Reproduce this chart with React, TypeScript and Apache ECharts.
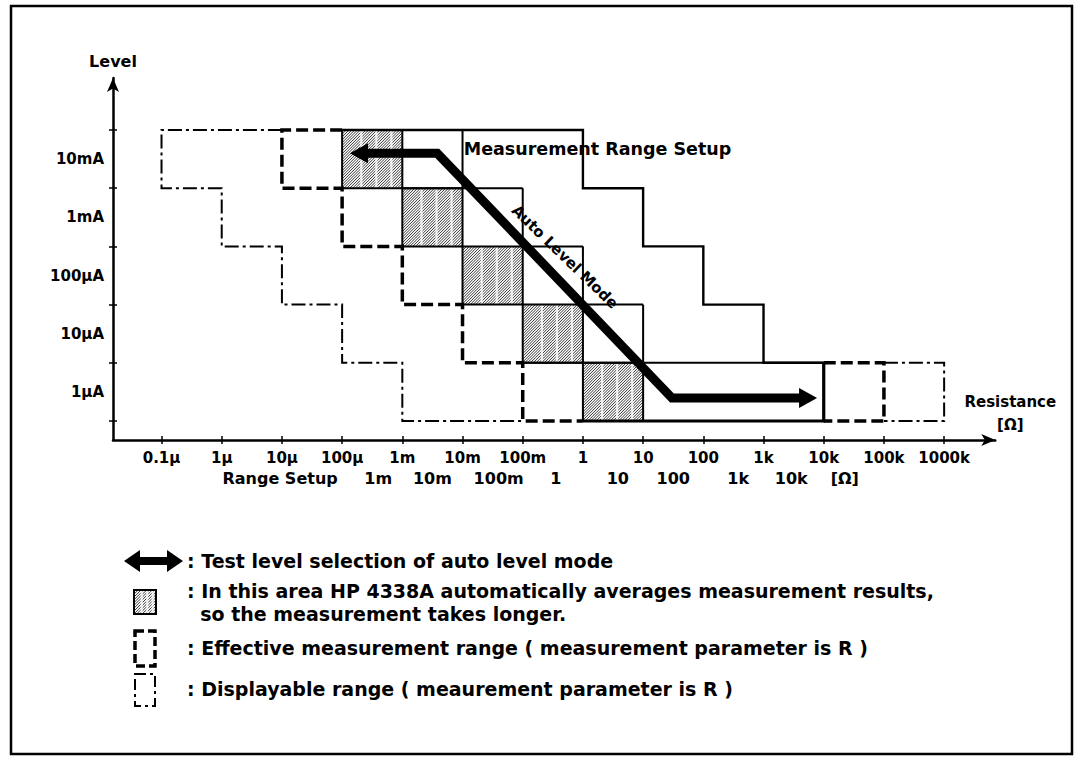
import React, { useEffect, useRef } from 'react';
import * as echarts from 'echarts';

const FONT = "'DejaVu Sans', 'Liberation Sans', sans-serif";

// Resistance axis: one step per decade, 0 = 0.1μΩ
const decadeTicks = [0, 1, 2, 3, 4, 5, 6, 7, 8, 9, 10, 11, 12, 13];
const decadeLabels = ['0.1μ', '1μ', '10μ', '100μ', '1m', '10m', '100m', '1', '10', '100', '1k', '10k', '100k', '1000k'];

// Range setup row under the resistance axis
const rangeSetupLabels = ['Range Setup', '1m', '10m', '100m', '1', '10', '100', '1k', '10k', '[Ω]'];
const rangeSetupAt = [1.97, 3.6, 4.5, 5.6, 6.55, 7.58, 8.5, 9.58, 10.46, 11.35];

// Test level axis: one band per level, band boundaries on integers
const levelBounds = [0, 1, 2, 3, 4, 5];
const levelLabels = ['1μA', '10μA', '100μA', '1mA', '10mA'];
const levelCenters = [0.5, 1.5, 2.5, 3.5, 4.5];

// Displayable range (parameter R): dash-dot outline
const displayableStairs = [[2, 5], [0, 5], [0, 4], [1, 4], [1, 3], [2, 3], [2, 2], [3, 2], [3, 1], [4, 1], [4, 0], [6, 0]];
const displayableTail = [[12, 1], [13, 1], [13, 0], [12, 0]];

// Effective measurement range (parameter R): dashed outline
const effectiveStairs = [[3, 5], [2, 5], [2, 4], [3, 4], [3, 3], [4, 3], [4, 2], [5, 2], [5, 1], [6, 1], [6, 0], [7, 0]];
const effectiveTail = [[11, 1], [12, 1], [12, 0], [11, 0]];

// Measurement range setup: solid outline and cell dividers
const setupOutline = [[3, 5], [7, 5], [7, 4], [8, 4], [8, 3], [9, 3], [9, 2], [10, 2], [10, 1], [11, 1]];
const setupBase = [[11, 1], [11, 0], [7, 0]];
const setupDividers = [
  [[4, 4], [6, 4]],
  [[5, 5], [5, 4]],
  [[6, 4], [6, 3]],
  [[6, 3], [7, 3]],
  [[7, 3], [7, 2]],
  [[7, 2], [8, 2]],
  [[8, 2], [8, 1]],
  [[6, 1], [11, 1]],
];

// Cells where readings are averaged: [left decade, level band]
const averagedCells = [[3, 4], [4, 3], [5, 2], [6, 1], [7, 0]];

// Auto level mode path (arrowheads at both ends)
const autoLevelPath = [[3.28, 4.6], [4.58, 4.6], [8.48, 0.395], [10.74, 0.395]];

const annotationTexts = ['Measurement Range Setup', 'Auto Level Mode'];
const annotationAnchors = [[5.02, 4.67], [6.7, 2.82]];

const legendTexts = [
  ': Test level selection of auto level mode',
  ': In this area HP 4338A automatically averages measurement results,\n  so the measurement takes longer.',
  ': Effective measurement range ( measurement parameter is R )',
  ': Displayable range ( meaurement parameter is R )',
];

const X_MIN = -0.806;
const X_MAX = 13.85;
const Y_MIN = -0.326;
const Y_MAX = 5.893;

const DASHED: number[] = [12, 5];
const DASH_DOT: number[] = [14, 4, 3, 4];

// Diagonal hatch with light vertical streaks, clipped to a box
function hatchBox(x0: number, y0: number, w: number, h: number): any[] {
  const els: any[] = [{ type: 'rect', shape: { x: x0, y: y0, width: w, height: h }, style: { fill: '#fff' } }];
  const step = 2.8;
  for (let c = x0 + y0 + 1.4; c < x0 + y0 + w + h; c += step) {
    const xa = Math.max(x0, c - (y0 + h));
    const xb = Math.min(x0 + w, c - y0);
    if (xb - xa < 0.5) continue;
    els.push({
      type: 'line',
      shape: { x1: xa, y1: c - xa, x2: xb, y2: c - xb },
      style: { stroke: '#333', lineWidth: 1 },
    });
  }
  [0.3, 0.55, 0.8].forEach((f) => {
    els.push({ type: 'rect', shape: { x: x0 + f * w, y: y0, width: 2.2, height: h }, style: { fill: 'rgba(255,255,255,0.8)' } });
  });
  els.push({
    type: 'rect',
    shape: { x: x0, y: y0, width: w, height: h },
    style: { fill: 'none', stroke: '#000', lineWidth: 2 },
  });
  return els;
}

function outline(data: number[][], width: number, type: any, z = 3) {
  return {
    type: 'line',
    data,
    symbol: 'none',
    silent: true,
    clip: false,
    z,
    lineStyle: { color: '#000', width, type, cap: 'butt', join: 'miter' },
  };
}

const textBase = { color: '#000', fontFamily: FONT, fontWeight: 'bold' as const };

function buildOption(): any {
  const lastArrow = autoLevelPath.length - 1;
  const arrowData = autoLevelPath.map((p, i) => {
    if (i === 0) return { value: p, symbol: 'triangle', symbolRotate: 90, symbolSize: [20, 18] };
    if (i === lastArrow) return { value: p, symbol: 'triangle', symbolRotate: -90, symbolSize: [20, 18] };
    return { value: p, symbol: 'none' };
  });

  // Legend icons (double arrow, hatched box, dashed box, dash-dot box) and texts
  const ax0 = 124, ax1 = 183, ay = 561, hh = 11, hl = 16, st = 4;
  const legendArrow = {
    type: 'polygon',
    shape: {
      points: [
        [ax0, ay], [ax0 + hl, ay - hh], [ax0 + hl, ay - st], [ax1 - hl, ay - st], [ax1 - hl, ay - hh],
        [ax1, ay], [ax1 - hl, ay + hh], [ax1 - hl, ay + st], [ax0 + hl, ay + st], [ax0 + hl, ay + hh],
      ],
    },
    style: { fill: '#000' },
  };
  const legendTextStyle = (text: string) => ({
    text,
    fill: '#000',
    fontFamily: FONT,
    fontWeight: 'bold',
    fontSize: 19,
    lineHeight: 23,
    verticalAlign: 'middle',
    align: 'left',
  });
  const legendRows = [561, 602, 648, 689];

  return {
    animation: false,
    backgroundColor: '#fff',
    grid: { left: 113, top: 78, width: 882.3, height: 362, containLabel: false, outerBoundsMode: 'none' },
    xAxis: [
      {
        type: 'value',
        min: X_MIN,
        max: X_MAX,
        position: 'bottom',
        splitLine: { show: false },
        axisLine: {
          show: true,
          onZero: false,
          symbol: ['none', 'arrow'],
          symbolSize: [9, 14],
          lineStyle: { color: '#000', width: 2.5 },
        },
        axisTick: { show: true, customValues: decadeTicks, length: 4, lineStyle: { color: '#000', width: 1.5 } },
        axisLabel: {
          show: true,
          customValues: decadeTicks,
          formatter: (v: number) => decadeLabels[Math.round(v)],
          margin: 10,
          fontSize: 15,
          ...textBase,
        },
        name: 'Resistance\n[Ω]',
        nameLocation: 'end',
        nameGap: 15,
        nameTextStyle: {
          ...textBase,
          fontSize: 15,
          align: 'center',
          verticalAlign: 'bottom',
          lineHeight: 23,
          padding: [0, 0, 4, 0],
        },
      },
      {
        type: 'value',
        min: X_MIN,
        max: X_MAX,
        position: 'bottom',
        splitLine: { show: false },
        axisLine: { show: false, onZero: false },
        axisTick: { show: true, inside: true, customValues: decadeTicks, length: 4, lineStyle: { color: '#000', width: 1.5 } },
        axisLabel: {
          show: true,
          customValues: rangeSetupAt,
          formatter: (v: number) => {
            const i = rangeSetupAt.findIndex((a) => Math.abs(a - v) < 1e-6);
            return i >= 0 ? rangeSetupLabels[i] : '';
          },
          margin: 30,
          fontSize: 16,
          ...textBase,
        },
      },
    ],
    yAxis: [
      {
        type: 'value',
        min: Y_MIN,
        max: Y_MAX,
        position: 'left',
        splitLine: { show: false },
        axisLine: {
          show: true,
          onZero: false,
          symbol: ['none', 'arrow'],
          symbolSize: [9, 14],
          lineStyle: { color: '#000', width: 2.5 },
        },
        axisTick: { show: true, customValues: levelBounds, length: 4, lineStyle: { color: '#000', width: 1.5 } },
        axisLabel: {
          show: true,
          customValues: levelCenters,
          formatter: (v: number) => levelLabels[Math.floor(v)],
          margin: 9,
          fontSize: 15,
          ...textBase,
        },
        name: 'Level',
        nameLocation: 'end',
        nameGap: 9,
        nameTextStyle: { ...textBase, fontSize: 16 },
      },
      {
        type: 'value',
        min: Y_MIN,
        max: Y_MAX,
        position: 'left',
        splitLine: { show: false },
        axisLine: { show: false, onZero: false },
        axisTick: { show: true, inside: true, customValues: levelBounds, length: 4, lineStyle: { color: '#000', width: 1.5 } },
        axisLabel: { show: false },
      },
    ],
    series: [
      {
        type: 'custom',
        silent: true,
        z: 2,
        data: averagedCells,
        encode: { x: 0, y: 1 },
        renderItem: (_params: any, api: any) => {
          const x = api.value(0);
          const y = api.value(1);
          const tl = api.coord([x, y + 1]);
          const br = api.coord([x + 1, y]);
          return { type: 'group', children: hatchBox(tl[0], tl[1], br[0] - tl[0], br[1] - tl[1]) };
        },
      },
      outline(displayableStairs, 2, DASH_DOT),
      outline(displayableTail, 2, DASH_DOT),
      outline(effectiveStairs, 3.5, DASHED),
      outline(effectiveTail, 3.5, DASHED),
      ...setupDividers.map((seg) => outline(seg, 2, 'solid')),
      outline(setupOutline, 2.4, 'solid'),
      outline(setupBase, 3.2, 'solid'),
      {
        type: 'line',
        data: arrowData,
        silent: true,
        clip: false,
        z: 6,
        showSymbol: true,
        itemStyle: { color: '#000' },
        lineStyle: { color: '#000', width: 9, cap: 'butt', join: 'miter' },
      },
      {
        type: 'custom',
        silent: true,
        z: 7,
        data: annotationAnchors,
        encode: { x: 0, y: 1 },
        renderItem: (params: any, api: any) => {
          const p = api.coord([api.value(0), api.value(1)]);
          const i = params.dataIndex;
          const along = i === 1;
          return {
            type: 'text',
            x: p[0],
            y: p[1],
            rotation: along ? (-44 * Math.PI) / 180 : 0,
            style: {
              text: annotationTexts[i],
              fill: '#000',
              fontFamily: FONT,
              fontWeight: 'bold',
              fontSize: along ? 15 : 17.5,
              align: along ? 'center' : 'left',
              verticalAlign: 'middle',
            },
          };
        },
      },
    ],
    graphic: [
      {
        type: 'rect',
        shape: { x: 11, y: 6, width: 1061, height: 748 },
        style: { fill: 'none', stroke: '#000', lineWidth: 2.5 },
        silent: true,
      },
      legendArrow,
      { type: 'group', children: hatchBox(134, 590, 22, 24) },
      {
        type: 'rect',
        shape: { x: 135, y: 631, width: 20, height: 35 },
        style: { fill: 'none', stroke: '#000', lineWidth: 3.5, lineDash: [9, 4] },
      },
      {
        type: 'rect',
        shape: { x: 135, y: 674, width: 20, height: 32 },
        style: { fill: 'none', stroke: '#000', lineWidth: 2, lineDash: [11, 4, 3, 4] },
      },
      ...legendTexts.map((t, i) => ({
        type: 'text',
        x: 187,
        y: legendRows[i],
        style: legendTextStyle(t),
      })),
    ],
  };
}

export default function App() {
  const ref = useRef<HTMLDivElement>(null);
  useEffect(() => {
    if (!ref.current) return;
    const chart = echarts.init(ref.current, null, { renderer: 'svg' });
    chart.setOption(buildOption());
    return () => chart.dispose();
  }, []);
  return (
    <div
      ref={ref}
      style={{ position: 'fixed', left: 0, top: 0, width: 1078, height: 757, background: '#fff' }}
    />
  );
}
